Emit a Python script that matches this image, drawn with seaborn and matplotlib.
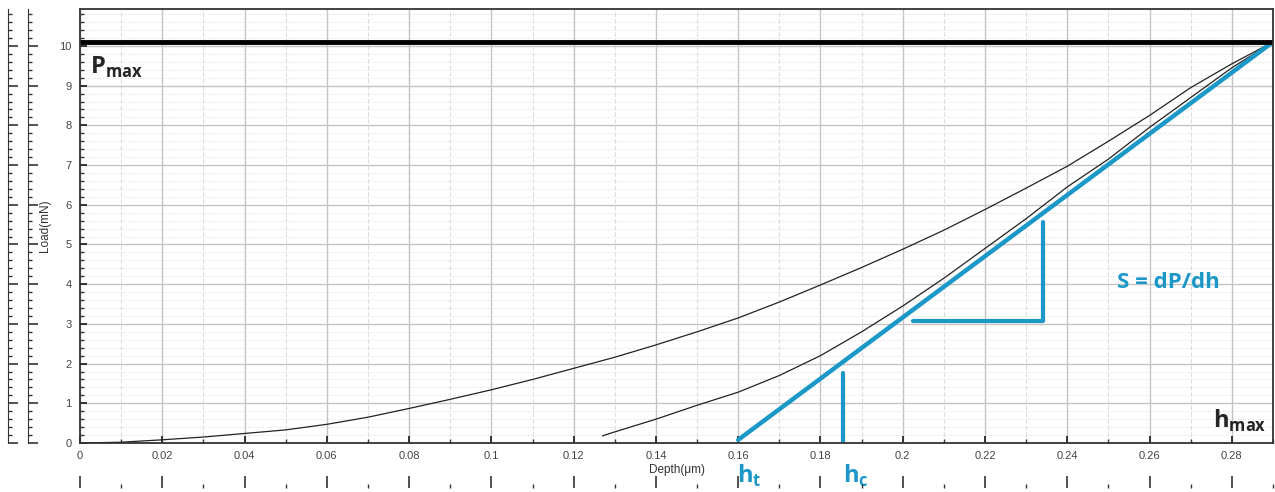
import seaborn as sns
import matplotlib.pyplot as plt
from matplotlib.ticker import MultipleLocator, FuncFormatter
import numpy as np

sns.set_style('white')
plt.rcParams['font.family'] = ['Liberation Sans', 'DejaVu Sans']
plt.rcParams['mathtext.fontset'] = 'custom'
plt.rcParams['mathtext.rm'] = 'Open Sans'
plt.rcParams['mathtext.bf'] = 'Open Sans:bold'

# loading curve (depth um, load mN)
load_depth = [0.0, 0.01, 0.02, 0.03, 0.04, 0.05, 0.06, 0.07, 0.08, 0.09, 0.10,
              0.11, 0.12, 0.13, 0.14, 0.15, 0.16, 0.17, 0.18, 0.19, 0.20,
              0.21, 0.22, 0.23, 0.24, 0.25, 0.26, 0.27, 0.28, 0.29]
load_force = [0.0, 0.02, 0.08, 0.15, 0.24, 0.33, 0.47, 0.65, 0.87, 1.1, 1.34,
              1.6, 1.88, 2.16, 2.47, 2.8, 3.15, 3.55, 3.98, 4.42, 4.88,
              5.36, 5.88, 6.42, 6.97, 7.6, 8.25, 8.95, 9.55, 10.1]
# unloading curve
unload_depth = [0.127, 0.13, 0.14, 0.15, 0.16, 0.17, 0.18, 0.19, 0.20,
                0.21, 0.22, 0.23, 0.24, 0.25, 0.26, 0.27, 0.28, 0.29]
unload_force = [0.18, 0.28, 0.6, 0.95, 1.28, 1.7, 2.2, 2.8, 3.45,
                4.15, 4.9, 5.65, 6.45, 7.15, 7.95, 8.7, 9.45, 10.1]
# tangent S, hc marker, slope triangle
tangent_depth = [0.16, 0.29]
tangent_force = [0.08, 10.1]
hc_depth = [0.1854, 0.1854]
hc_force = [0.0, 1.76]
tri_depth = [0.2024, 0.234, 0.234]
tri_force = [3.07, 3.07, 5.57]
p_max = 10.1

blue = '#1b98c8'

fig = plt.figure(figsize=(12.75, 4.92), dpi=100)
ax = fig.add_axes([80 / 1275, 49 / 492, 1193 / 1275, 434 / 492])

sns.lineplot(x=load_depth, y=load_force, color='#222222', lw=0.9, ax=ax, estimator=None)
sns.lineplot(x=unload_depth, y=unload_force, color='#222222', lw=0.9, ax=ax, estimator=None)
sns.lineplot(x=tangent_depth, y=tangent_force, color=blue, lw=3.2, ax=ax, estimator=None)
sns.lineplot(x=hc_depth, y=hc_force, color=blue, lw=3.0, ax=ax, estimator=None, sort=False)
sns.lineplot(x=tri_depth, y=tri_force, color=blue, lw=3.0, ax=ax, estimator=None, sort=False)
ax.axhline(p_max, color='black', lw=3.5)

ax.set_xlim(0, 0.29)
ax.set_ylim(0, 10.93)
ax.xaxis.set_major_locator(MultipleLocator(0.02))
ax.xaxis.set_minor_locator(MultipleLocator(0.01))
ax.yaxis.set_major_locator(MultipleLocator(1))
ax.yaxis.set_minor_locator(MultipleLocator(0.2))
ax.xaxis.set_major_formatter(FuncFormatter(lambda v, p: ('%.2f' % v).rstrip('0').rstrip('.') if v else '0'))
ax.grid(which='major', color='#c4c4c4', lw=1.0)
ax.grid(which='minor', axis='x', color='#dddddd', lw=0.8, ls=(0, (4, 2)))
ax.grid(which='minor', axis='y', color='#d2d2d2', lw=0.6, ls=(0, (1, 2)))
ax.tick_params(which='both', left=True, bottom=True)
ax.tick_params(which='major', direction='in', length=5, width=1.4, color='#333333',
               labelsize=8, labelcolor='#444444', pad=6)
ax.tick_params(which='minor', direction='in', length=3, width=1.0, color='#333333')
for s in ax.spines.values():
    s.set_color('#333333')
    s.set_linewidth(1.3)
ax.set_xlabel('Depth(μm)', fontsize=8.5, color='#333333', labelpad=2)
ax.set_ylabel('Load(mN)', fontsize=8.5, color='#333333', labelpad=6)

ax.text(0.0025, 9.45, r'$\mathbf{P}_{\mathbf{max}}$', fontsize=17, va='center', ha='left')
ax.text(0.2885, 0.55, r'$\mathbf{h}_{\mathbf{max}}$', fontsize=17, va='center', ha='right')
ax.text(0.252, 4.05, 'S = dP/dh', fontsize=16, color=blue, fontweight='bold',
        family='Open Sans', va='center', ha='left')
ax.text(0.1598, -0.5, r'$\mathbf{h}_{\mathbf{t}}$', fontsize=17, color=blue, va='top', ha='left')
ax.text(0.1854, -0.5, r'$\mathbf{h}_{\mathbf{c}}$', fontsize=17, color=blue, va='top', ha='left')

# ruler strips at the left and bottom of the scan
for xpos in (8, 28):
    r = fig.add_axes([xpos / 1275, 49 / 492, 0.0001, 434 / 492])
    r.set_ylim(ax.get_ylim())
    r.yaxis.set_major_locator(MultipleLocator(1))
    r.yaxis.set_minor_locator(MultipleLocator(0.2))
    r.tick_params(axis='y', which='both', left=True, direction='in', labelleft=False, color='#333333')
    r.tick_params(axis='y', which='major', length=7, width=1.2)
    r.tick_params(axis='y', which='minor', length=3, width=1.0)
    r.set_xticks([])
    for k in ('top', 'right', 'bottom'):
        r.spines[k].set_visible(False)
    r.spines['left'].set_color('#333333')

b = fig.add_axes([80 / 1275, 4 / 492, 1193 / 1275, 0.0001])
b.set_xlim(ax.get_xlim())
b.xaxis.set_major_locator(MultipleLocator(0.02))
b.xaxis.set_minor_locator(MultipleLocator(0.01))
b.tick_params(axis='x', which='both', bottom=True, direction='in', labelbottom=False, color='#333333')
b.tick_params(axis='x', which='major', length=9, width=1.2)
b.tick_params(axis='x', which='minor', length=3, width=1.0)
b.set_yticks([])
for s in b.spines.values():
    s.set_visible(False)

fig.savefig('out.png', dpi=100)
